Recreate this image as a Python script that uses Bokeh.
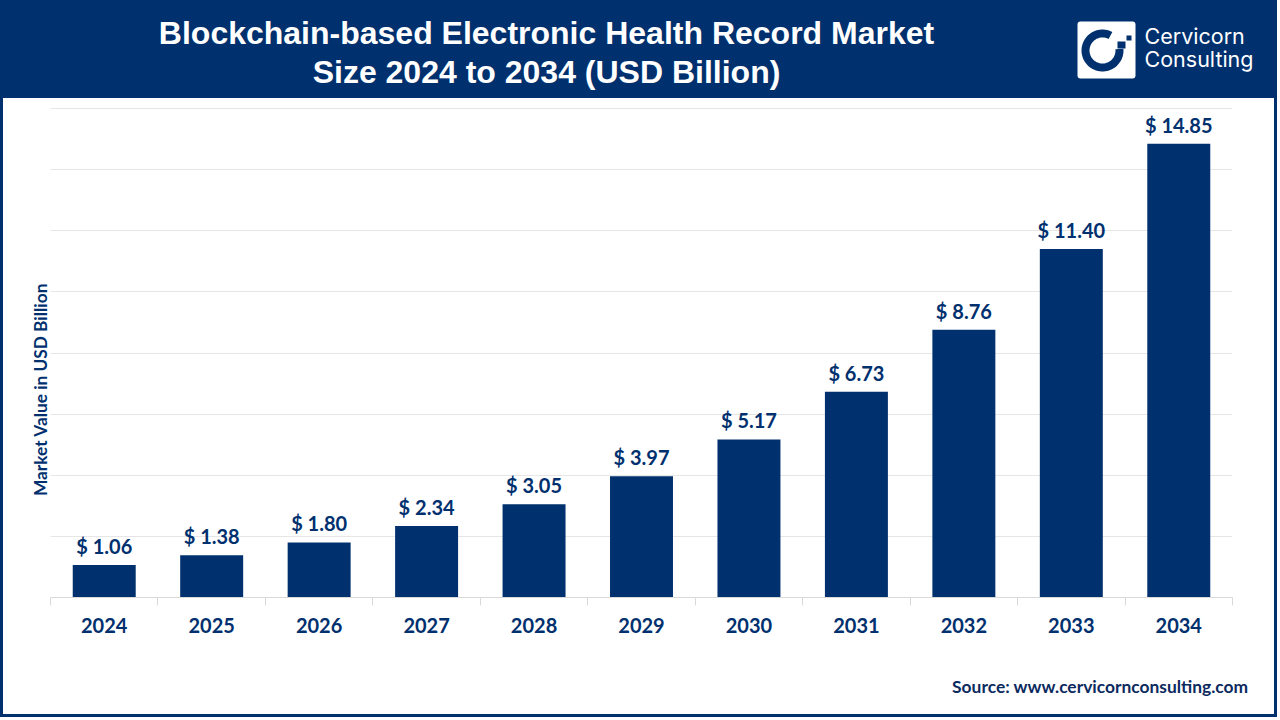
import numpy as np
from bokeh.embed import file_html
from bokeh.layouts import column, row
from bokeh.models import ColumnDataSource, FixedTicker, InlineStyleSheet, Label, LabelSet, Range1d
from bokeh.core.properties import value as fixed
from bokeh.plotting import figure
from bokeh.resources import INLINE

years = [2024, 2025, 2026, 2027, 2028, 2029, 2030, 2031, 2032, 2033, 2034]
values = [1.06, 1.38, 1.80, 2.34, 3.05, 3.97, 5.17, 6.73, 8.76, 11.40, 14.85]
value_labels = ["$ 1.06", "$ 1.38", "$ 1.80", "$ 2.34", "$ 3.05", "$ 3.97", "$ 5.17", "$ 6.73", "$ 8.76", "$ 11.40", "$ 14.85"]
y_gridlines = [0, 2, 4, 6, 8, 10, 12, 14, 16]
title_lines = ["Blockchain-based Electronic Health Record Market", "Size 2024 to 2034 (USD Billion)"]
y_title = "Market Value in USD Billion"
source_text = "Source: www.cervicornconsulting.com"
logo_lines = ["Cervicorn", "Consulting"]

NAVY = "#00306E"
TEXT = "#00306E"
GRID = "#E6E6E6"
W, H, HEADER, FOOTER = 1280, 720, 98, 60
LEFT, RIGHT, TOP, BASE = 50, 1232, 108, 597
PAD = 2  # the frame starts a little above the top gridline so that the line is not clipped away


def strip(x_from, width, y_from, height, bg):
    """Band around the chart, in reference pixel coordinates."""
    f = figure(width=width, height=height, output_backend="svg", toolbar_location=None,
               x_range=Range1d(x_from, x_from + width), y_range=Range1d(y_from + height, y_from),
               min_border=0, background_fill_color=None, border_fill_color=None,
               frame_align=False, styles={"background-color": bg})
    f.axis.visible = False
    f.grid.visible = False
    f.outline_line_color = None
    return f


# ---- header band
h = strip(0, W, 0, HEADER, NAVY)
for line, cy in zip(title_lines, [32, 71]):
    h.add_layout(Label(x=546, y=cy, text=line, text_align="center", text_baseline="middle", text_color="white",
                       text_font="Liberation Sans", text_font_style="bold", text_font_size="32px"))
h.quad(left=[1077], right=[1135], top=[21], bottom=[78], color="white", line_color=None, border_radius=3)
angles = np.radians(np.linspace(62, 365, 60))
ring_x = np.r_[1102 + 21 * np.cos(angles), 1102 + 13 * np.cos(angles[::-1])]
ring_y = np.r_[50 - 21 * np.sin(angles), 50 - 13 * np.sin(angles[::-1])]
h.patch(ring_x, ring_y, color=NAVY, line_color=None)
h.quad(left=[1117, 1126], right=[1125, 1131], top=[41, 35], bottom=[48, 40], color=NAVY, line_color=None)
for line, cy in zip(logo_lines, [35, 58]):
    h.add_layout(Label(x=1144, y=cy, text=line, text_align="left", text_baseline="middle", text_color="white",
                       text_font="Inter", text_font_size="21.5px"))

# ---- y title column
MID = H - HEADER - FOOTER
t = strip(0, LEFT, HEADER, MID, "white")
t.add_layout(Label(x=40, y=389, text=y_title, angle=np.pi / 2, text_align="center",
                   text_baseline="middle", text_color=TEXT, text_font="Lato", text_font_style="bold",
                   text_font_size="17.3px"))

# ---- chart
src = ColumnDataSource(dict(year=years, value=values, label=value_labels))
x0, x1 = years[0] - 0.5, years[-1] + 0.5
y_end = y_gridlines[-1] * (BASE - TOP + PAD) / (BASE - TOP)
p = figure(width=W - LEFT, height=MID, output_backend="svg", toolbar_location=None,
           x_range=Range1d(x0, x1), y_range=Range1d(0, y_end),
           min_border_left=0, min_border_right=W - RIGHT, min_border_top=TOP - HEADER - PAD,
           min_border_bottom=H - FOOTER - BASE, frame_align=False,
           background_fill_color="white", border_fill_color="white")
p.outline_line_color = None

p.vbar(x="year", top="value", bottom=0, width=0.586, color=NAVY, line_color=None, source=src)
p.add_layout(LabelSet(x="year", y="value", text="label", source=src, y_offset=7,
                      text_align="center", text_baseline="bottom", text_color=TEXT,
                      text_font=fixed("Lato"), text_font_style="bold", text_font_size="20px"))

p.xgrid.visible = False
p.ygrid.grid_line_color = GRID
p.ygrid.ticker = FixedTicker(ticks=y_gridlines)
p.yaxis.visible = False

xa = p.xaxis[0]
xa.ticker = FixedTicker(ticks=years, minor_ticks=[y - 0.5 for y in years] + [years[-1] + 0.5])
xa.major_tick_line_color = None
xa.minor_tick_line_color = "#D9D9D9"
xa.minor_tick_out = 8
xa.minor_tick_in = 0
xa.axis_line_color = "#D9D9D9"
xa.major_label_text_font = "Lato"
xa.major_label_text_font_style = "bold"
xa.major_label_text_font_size = "20px"
xa.major_label_text_color = TEXT
xa.major_label_standoff = 12

# ---- footer band
f = strip(0, W, H - FOOTER, FOOTER, "white")
f.add_layout(Label(x=1248, y=686, text=source_text, text_align="right", text_baseline="middle",
                   text_color="#0B2A5E", text_font="Lato", text_font_style="bold", text_font_size="17.4px"))

frame_css = InlineStyleSheet(css=f""":host::after {{
  content: ""; position: absolute; left: 0; right: 3px; top: 0; bottom: 3px; box-sizing: border-box;
  border: 3px solid {NAVY}; pointer-events: none; z-index: 100;
}}
:host::before {{
  content: ""; position: absolute; left: 0; right: 0; top: 0; bottom: 0; box-sizing: border-box;
  border-right: 3px solid white; border-bottom: 3px solid white; pointer-events: none; z-index: 99;
}}""")
page = column(h, row(t, p, spacing=0), f, spacing=0, stylesheets=[frame_css])
open("out.html", "w").write(file_html(page, INLINE))
